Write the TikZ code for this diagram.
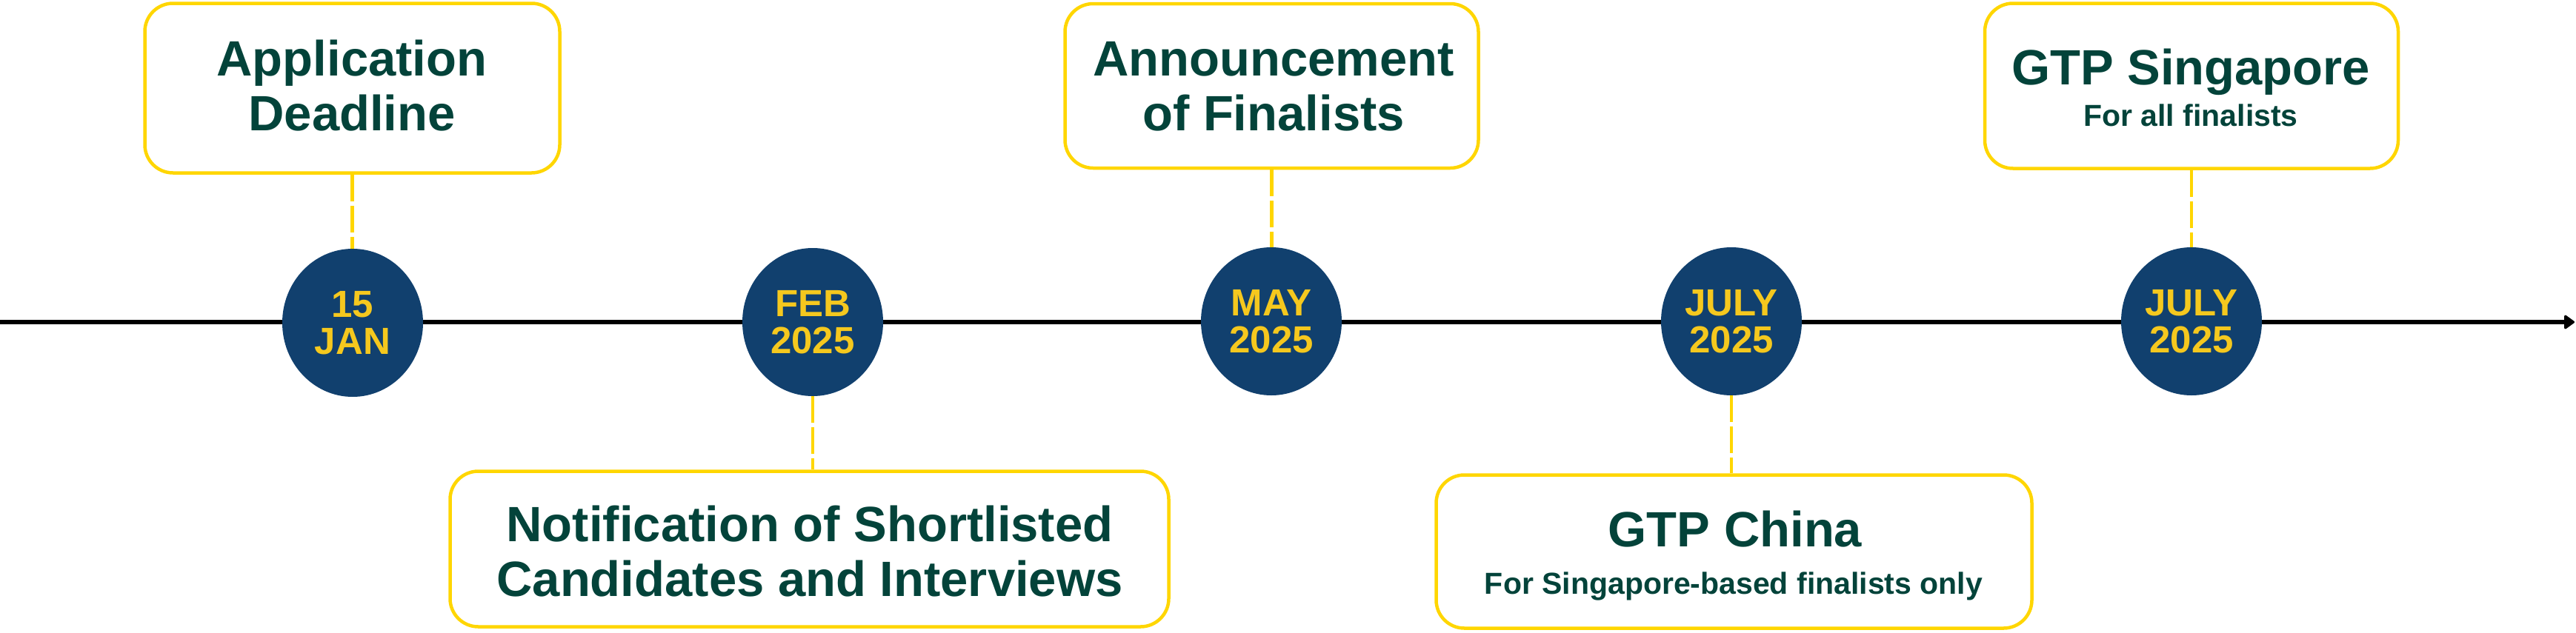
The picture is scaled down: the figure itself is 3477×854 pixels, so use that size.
\documentclass[tikz,border=0pt]{standalone}
\usepackage{fontspec}
\setmainfont{Liberation Sans}
\usetikzlibrary{shapes.geometric,arrows.meta}
\definecolor{tgreen}{HTML}{03433A}
\definecolor{navy}{HTML}{11406E}
\definecolor{dateyellow}{HTML}{F5C81E}
\definecolor{boxyellow}{HTML}{FFD600}
\begin{document}
\begin{tikzpicture}[x=1pt,y=-1pt,
  eventbox/.style={draw=boxyellow, line width=4.5pt, rounded corners=38pt, fill=white, inner sep=0pt},
  datecirc/.style={ellipse, fill=navy, minimum width=190pt, minimum height=200pt, inner sep=0pt,
     text=dateyellow, font=\bfseries\fontsize{51}{50}\selectfont, align=center},
  titleline/.style={anchor=base, inner sep=0pt, text=tgreen, font=\bfseries\fontsize{67}{74}\selectfont},
  subline/.style={anchor=base, inner sep=0pt, text=tgreen, font=\bfseries\fontsize{41}{48}\selectfont},
  conn/.style={draw=boxyellow, line width=4.5pt, dash pattern=on 36pt off 6pt},
  timeline/.style={line width=6pt, black, -{Triangle[length=15pt,width=21pt,line width=3pt,round]}}]
\useasboundingbox (0,0) rectangle (3477,854);
\fill[white] (0,0) rectangle (3477,854);

% timeline
\coordinate (tl0) at (0,435);
\coordinate (tl1) at (3475,435);
\draw[timeline] (tl0) -- (tl1);

% boxes
\node[eventbox, minimum width=560pt, minimum height=229pt] (b1) at (475.5,119) {};
\node[eventbox, minimum width=970pt, minimum height=210pt] (b2) at (1092.5,741.5) {};
\node[eventbox, minimum width=558pt, minimum height=222pt] (b3) at (1716.5,116) {};
\node[eventbox, minimum width=804pt, minimum height=207pt] (b4) at (2340.5,745) {};
\node[eventbox, minimum width=558pt, minimum height=223pt] (b5) at (2958,116) {};

% date ellipses
\node[datecirc] (e1) at (476,436) {15\\JAN};
\node[datecirc] (e2) at (1097,435) {FEB\\2025};
\node[datecirc] (e3) at (1716,434) {MAY\\2025};
\node[datecirc] (e4) at (2337,434) {JULY\\2025};
\node[datecirc] (e5) at (2958,434) {JULY\\2025};

% connectors
\draw[conn] (b1.south) -- (b1.south |- e1.north);
\draw[conn] (e2.south) -- (e2.south |- b2.north);
\draw[conn] (b3.south) -- (b3.south |- e3.north);
\draw[conn] (e4.south) -- (e4.south |- b4.north);
\draw[conn] (b5.south) -- (b5.south |- e5.north);

% texts
\node[titleline] (t1a) at (475,102) {Application};
\node[titleline] (t1b) at (475,176) {Deadline};
\node[titleline] (t2a) at (1093,731) {Notification of Shortlisted};
\node[titleline] (t2b) at (1093,805) {Candidates and Interviews};
\node[titleline] (t3a) at (1719,102) {Announcement};
\node[titleline] (t3b) at (1719,176) {of Finalists};
\node[titleline] (t4a) at (2342,738) {GTP China};
\node[subline] (t4b) at (2340,802) {For Singapore-based finalists only};
\node[titleline] (t5a) at (2957,114) {GTP Singapore};
\node[subline] (t5b) at (2957,170) {For all finalists};
\end{tikzpicture}
\end{document}
